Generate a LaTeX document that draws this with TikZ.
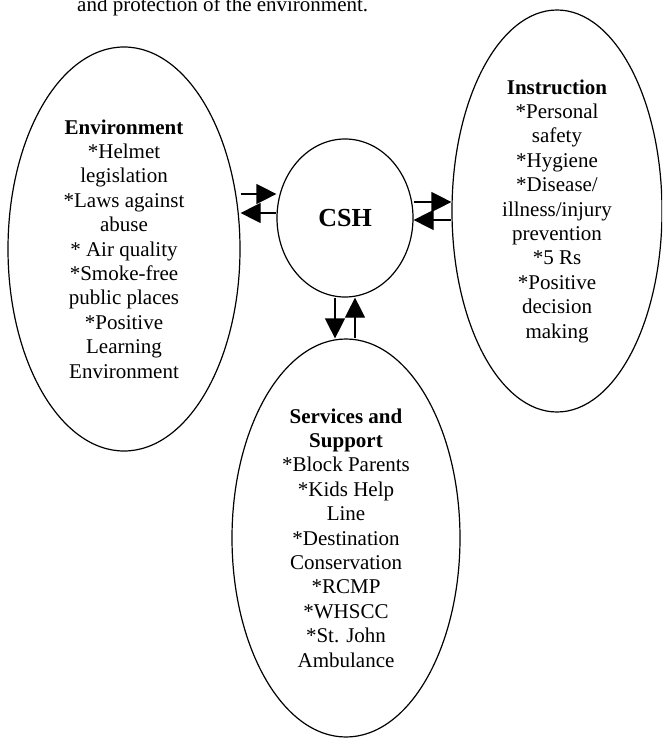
\documentclass[tikz,border=0pt]{standalone}
\usepackage{fontspec}
\setmainfont{Liberation Serif}
\usetikzlibrary{shapes.geometric,arrows.meta}

\tikzset{
  bubble/.style={draw, ellipse, line width=1.2pt, inner sep=0pt,
    align=center, font=\fontsize{21}{24.4}\selectfont},
  arr/.style={line width=1.2pt, -{Triangle[length=20pt,width=20pt]}},
}

\begin{document}
\begin{tikzpicture}[x=1pt,y=-1pt]
\useasboundingbox (0,0) rectangle (662,738);
\clip (0,0) rectangle (662,738);

% closing line of the preceding paragraph
\node[anchor=base west, inner sep=0pt, font=\fontsize{21}{24.4}\selectfont]
  (caption) at (77,12) {and protection of the environment.};

% central circle
\node[bubble, minimum width=136pt, minimum height=158pt,
      font=\fontsize{26}{30}\selectfont\bfseries] (csh) at (345,218) {CSH};

% the three component ellipses
\node[bubble, minimum width=232pt, minimum height=404pt] (env) at (124,249)
  {\textbf{Environment}\\*Helmet\\legislation\\*Laws against\\abuse\\* Air quality\\*Smoke-free\\public places\\*Positive\\Learning\\Environment};

\node[bubble, minimum width=210pt, minimum height=402pt] (instr) at (557,211)
  {\textbf{Instruction}\\*Personal\\safety\\*Hygiene\\*Disease/\\illness/injury\\prevention\\*5 Rs\\*Positive\\decision\\making};

\node[bubble, minimum width=228pt, minimum height=398pt] (serv) at (346,538)
  {\textbf{Services and}\\\textbf{Support}\\*Block Parents\\*Kids Help\\Line\\*Destination\\Conservation\\*RCMP\\*WHSCC\\*St. John\\Ambulance};

% two-way links
\draw[arr] (env.east |- 0,194) -- (csh.west |- 0,194);
\draw[arr] (csh.west |- 0,213) -- (env.east |- 0,213);

\draw[arr] (csh.east |- 0,202) -- (instr.west |- 0,202);
\draw[arr] (instr.west |- 0,220) -- (csh.east |- 0,220);

\draw[arr] (csh.south -| 335,0) -- (serv.north -| 335,0);
\draw[arr] (serv.north -| 355,0) -- (csh.south -| 355,0);
\end{tikzpicture}
\end{document}
